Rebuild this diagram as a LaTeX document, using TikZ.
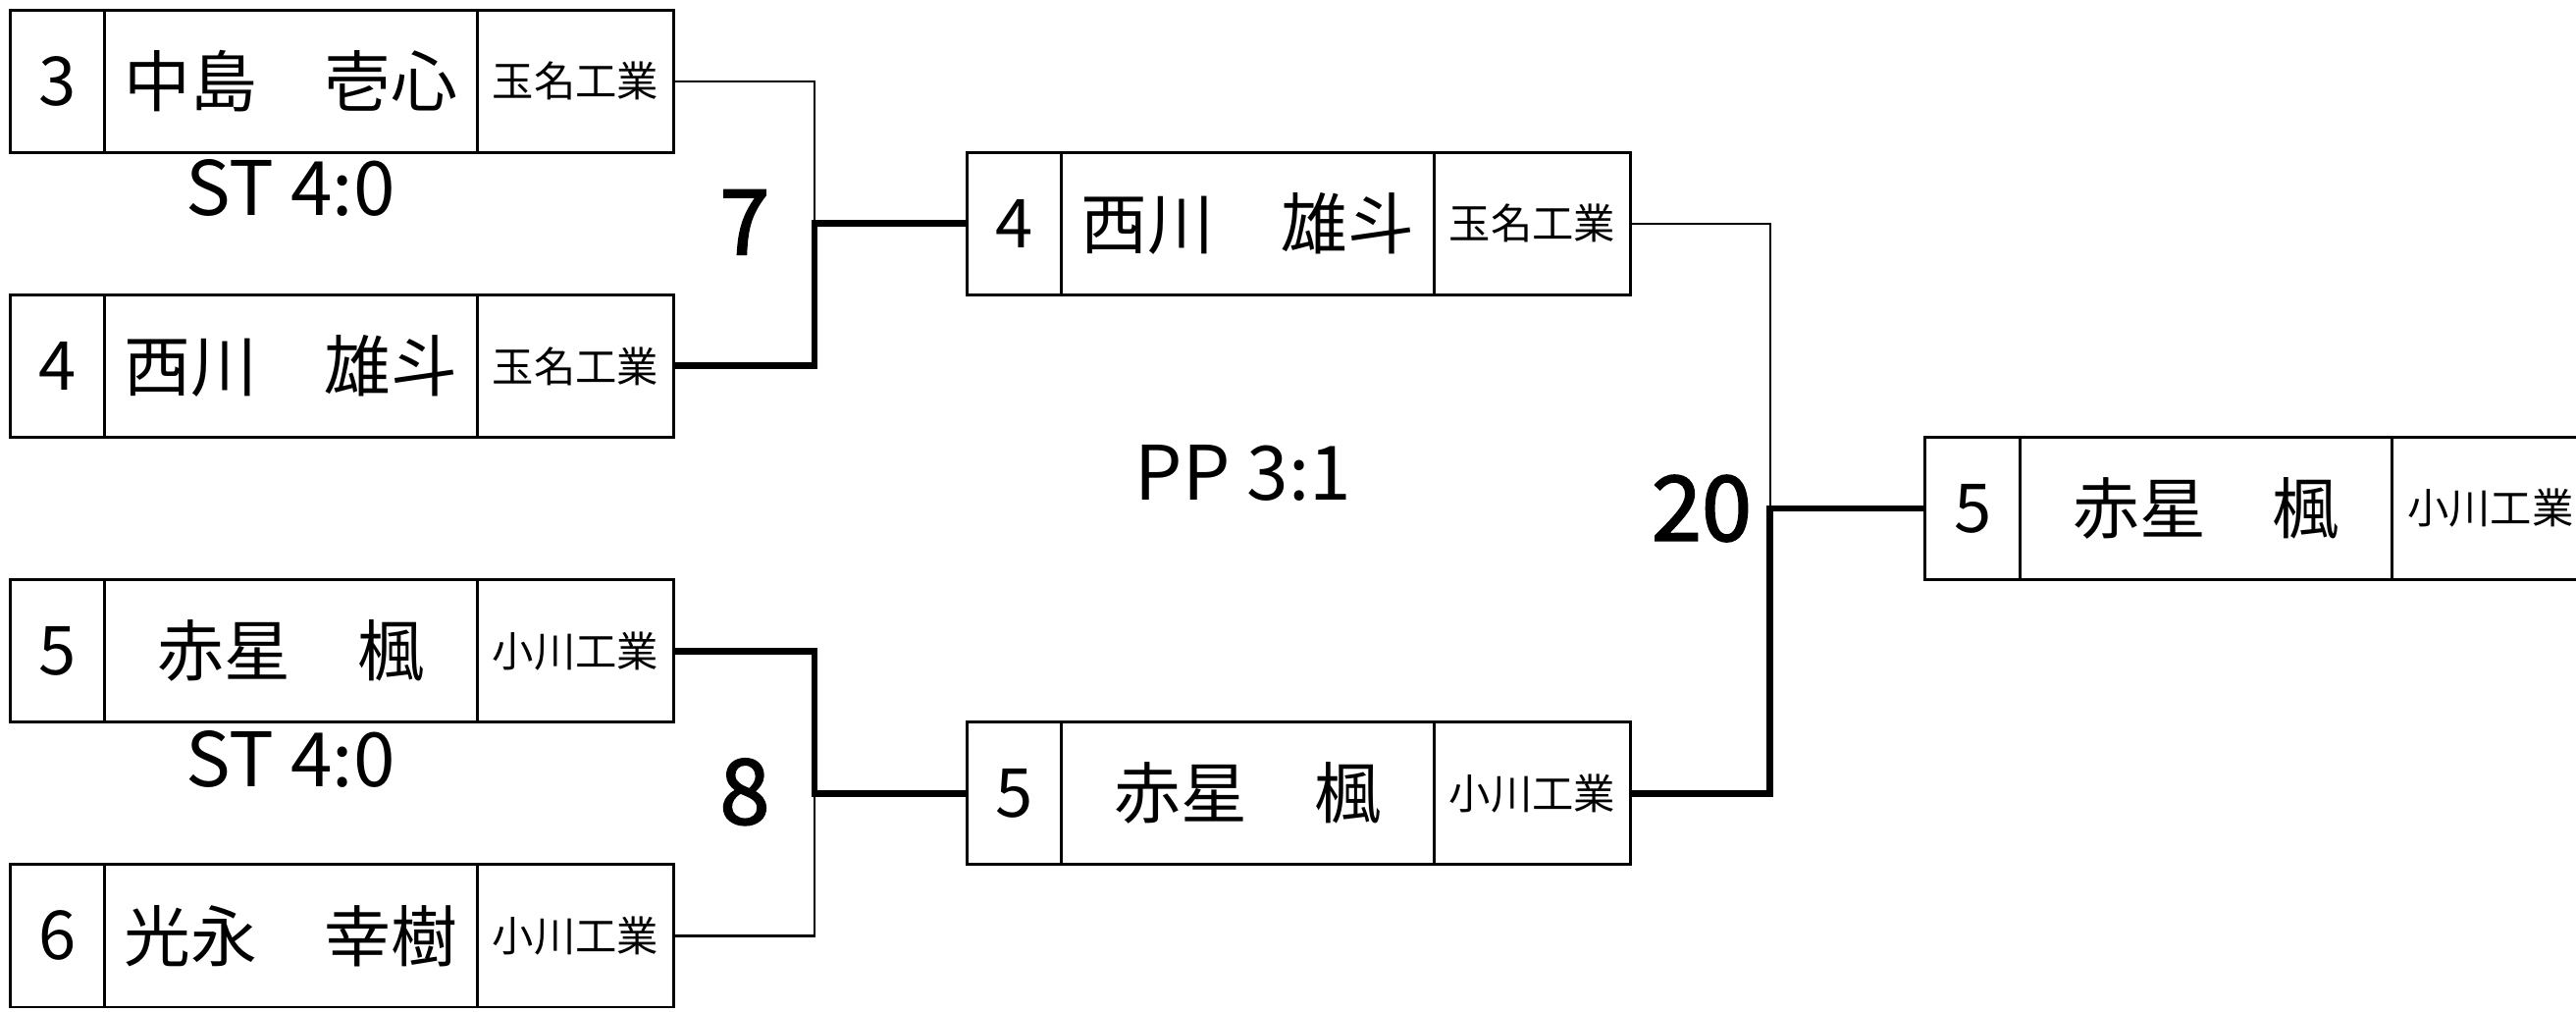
\documentclass[tikz,border=0pt]{standalone}
\usepackage{fontspec}
\setmainfont{Noto Sans CJK JP}
\newfontfamily\medfont[FakeBold=2]{Noto Sans CJK JP}
\usepackage{tikz}
\usetikzlibrary{positioning}

\tikzset{
  cell/.style={draw, line width=0.55pt, minimum height=1cm, inner sep=0pt, outer sep=0pt},
  numcell/.style={cell, minimum width=0.665cm, font=\fontsize{13.5}{15}\selectfont},
  namecell/.style={cell, minimum width=2.615cm, font=\fontsize{13.3}{15}\selectfont},
  schoolcell/.style={cell, minimum width=1.38cm, font=\fontsize{8.3}{10}\selectfont},
  loser/.style={line width=0.45pt},
  winner/.style={line width=1.35pt, line join=miter},
  score/.style={font=\fontsize{15}{18}\selectfont},
  matchno/.style={font=\medfont\fontsize{18}{20}\selectfont}
}

\begin{document}
\begin{tikzpicture}
\clip (0,0) rectangle (18.09,-7.105);
% players
\foreach \id/\x/\y/\num/\who/\school in {
  a1/0.071/-0.57/3/中島　壱心/玉名工業,
  a2/0.071/-2.57/4/西川　雄斗/玉名工業,
  a3/0.071/-4.57/5/赤星　楓/小川工業,
  a4/0.071/-6.57/6/光永　幸樹/小川工業,
  r1/6.79/-1.57/4/西川　雄斗/玉名工業,
  r2/6.79/-5.57/5/赤星　楓/小川工業,
  f/13.52/-3.57/5/赤星　楓/小川工業}{
  \node[numcell, anchor=west] (\id-n) at (\x,\y) {\num};
  \node[namecell, right=0pt of \id-n] (\id-p) {\who};
  \node[schoolcell, right=0pt of \id-p] (\id-s) {\school};
}
% results
\node[score] (st1) at (2.04,-1.32) {ST 4:0};
\node[score] (st2) at (2.04,-5.33) {ST 4:0};
\node[score] (pp1) at (8.73,-3.32) {PP 3:1};
\node[matchno] (no7) at (5.23,-1.56) {7};
\node[matchno] (no8) at (5.23,-5.56) {8};
\node[matchno] (no20) at (11.95,-3.57) {20};
% bracket lines
\coordinate (m1) at (5.72,-1.57);
\coordinate (m2) at (5.72,-5.57);
\coordinate (m3) at (12.43,-3.57);
\draw[loser] (a1-s.east) -| (m1);
\draw[winner] (a2-s.east) -| (m1) -- (r1-n.west);
\draw[winner] (a3-s.east) -| (m2) -- (r2-n.west);
\draw[loser] (a4-s.east) -| (m2);
\draw[loser] (r1-s.east) -| (m3);
\draw[winner] (r2-s.east) -| (m3) -- (f-n.west);
\end{tikzpicture}
\end{document}
